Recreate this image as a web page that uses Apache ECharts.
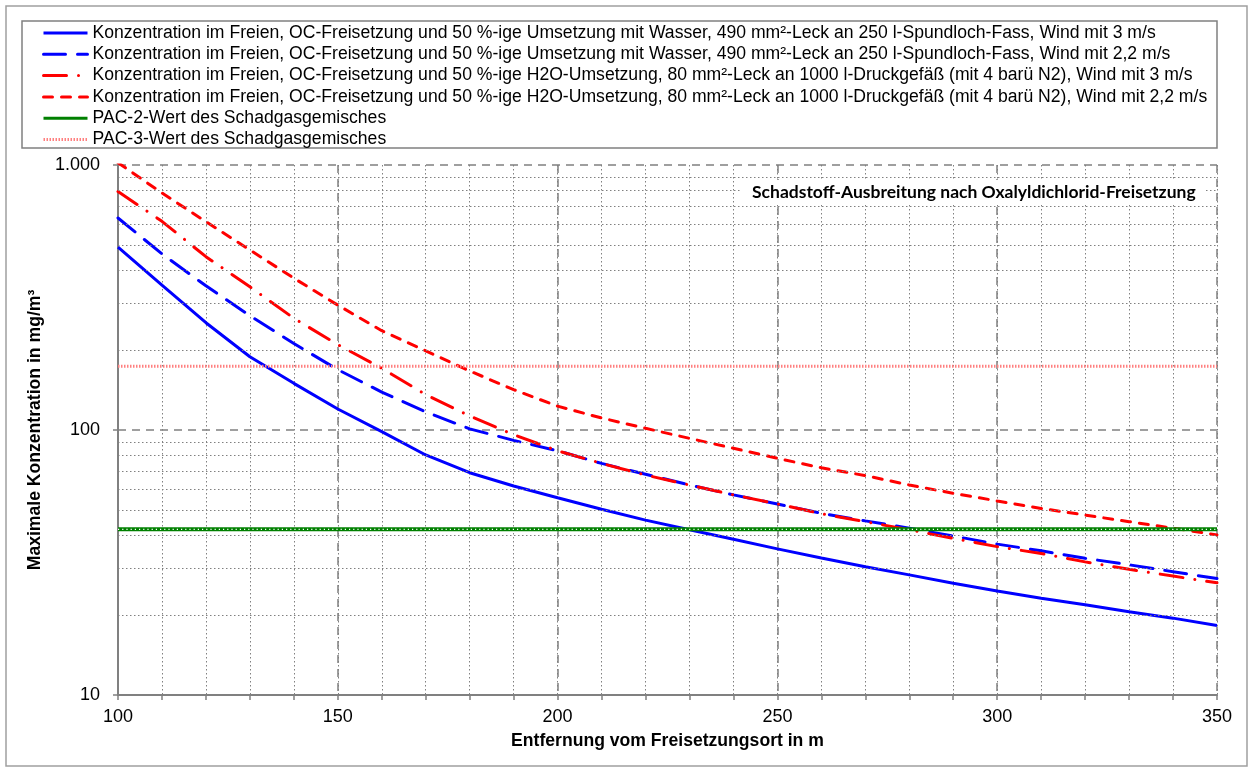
<!DOCTYPE html>
<html style="height: 100%">
<head>
    <meta charset="utf-8">
    <script src="https://cdn.jsdelivr.net/npm/echarts@6/dist/echarts.min.js"></script>
    <title>Schadstoff-Ausbreitung</title>
</head>
<body style="height: 100%; margin: 0; background: #fff">
<div id="container" style="width: 1253px; height: 772px"></div>
<script type="text/javascript">

    // Entfernung in m
    let distances = [100, 110, 120, 130, 140, 150, 160, 170, 180, 190, 200, 210, 220,
        230, 240, 250, 260, 270, 280, 290, 300, 310, 320, 330, 340, 350]

    // 490 mm² Leck, Wind 3 m/s
    let fass3 = [490, 352, 254, 189, 150, 120, 98.6, 80.5, 69, 61.5, 55.5, 50.2, 45.7,
        42.0, 38.7, 35.6, 32.9, 30.5, 28.4, 26.4, 24.7, 23.2, 21.9, 20.6, 19.5, 18.3]
    // 490 mm² Leck, Wind 2,2 m/s
    let fass22 = [631, 462, 350, 270, 212, 169, 139, 117, 101, 91.4, 83.5, 74.8, 68.1,
        62, 56.9, 52.6, 48.5, 45.4, 42.6, 39.8, 37.1, 35, 32.8, 31, 29.2, 27.5]
    // 80 mm² Leck, Wind 3 m/s
    let druck3 = [794, 613, 451, 347, 264, 210, 171, 136, 113, 96, 83.5, 74.8, 67.6,
        62, 56.9, 52.6, 48.3, 45.1, 42, 39, 36.3, 34.2, 31.8, 29.8, 28.1, 26.5]
    // 80 mm² Leck, Wind 2,2 m/s
    let druck22 = [1020, 784, 611, 478, 374, 296, 237, 199, 167, 142, 123, 111, 101.5,
        93, 85.3, 78.2, 72, 67.3, 62, 57.7, 54, 50.6, 47.75, 45.1, 42.6, 40.2]

    let pac2 = 42.2
    let pac3 = 174

    let yMinorTicks = [20, 30, 40, 50, 60, 70, 80, 90, 200, 300, 400, 500, 600, 700, 800, 900]

    let names = [
        'Konzentration im Freien, OC-Freisetzung und 50 %-ige Umsetzung mit Wasser, 490 mm²-Leck an 250 l-Spundloch-Fass, Wind mit 3 m/s',
        'Konzentration im Freien, OC-Freisetzung und 50 %-ige Umsetzung mit Wasser, 490 mm²-Leck an 250 l-Spundloch-Fass, Wind mit 2,2 m/s',
        'Konzentration im Freien, OC-Freisetzung und 50 %-ige H2O-Umsetzung, 80 mm²-Leck an 1000 l-Druckgefäß (mit 4 barü N2), Wind mit 3 m/s',
        'Konzentration im Freien, OC-Freisetzung und 50 %-ige H2O-Umsetzung, 80 mm²-Leck an 1000 l-Druckgefäß (mit 4 barü N2), Wind mit 2,2 m/s',
        'PAC-2-Wert des Schadgasgemisches',
        'PAC-3-Wert des Schadgasgemisches'
    ]

    function pairs(vals) {
        return distances.map((d, i) => [d, vals[i]])
    }
    function flat(v) {
        return [[distances[0], v], [distances[distances.length - 1], v]]
    }

    let font = "'Liberation Sans', Arial, sans-serif"
    let grey = '#808080'

    let chart = echarts.init(document.getElementById('container'))
    chart.setOption({
        animation: false,
        title: {
            text: 'Schadstoff-Ausbreitung nach Oxalyldichlorid-Freisetzung',
            left: 742, top: 180,
            padding: [3, 10, 3, 10],
            backgroundColor: '#fff',
            textStyle: {fontFamily: 'Lato, sans-serif', fontWeight: 'bold', fontSize: 17.5, color: '#000'}
        },
        legend: {
            data: names,
            orient: 'vertical',
            left: 42, top: 24, padding: 0,
            itemWidth: 44, itemHeight: 14, itemGap: 3.3,
            itemStyle: {opacity: 0},
            lineStyle: {width: 3},
            textStyle: {fontFamily: font, fontSize: 17.6, color: '#000', lineHeight: 18}
        },
        graphic: [
            {type: 'rect', shape: {x: 6, y: 6, width: 1241, height: 760}, style: {fill: null, stroke: '#a0a0a0', lineWidth: 1.5}, z: -1},
            {type: 'rect', shape: {x: 22, y: 21, width: 1195, height: 127}, style: {fill: null, stroke: grey, lineWidth: 1.5}, z: -1}
        ],
        grid: {left: 118, right: 36, top: 165, bottom: 77},
        xAxis: [
            {
                type: 'value', min: 100, max: 350, interval: 50,
                name: 'Entfernung vom Freisetzungsort in m',
                nameLocation: 'middle', nameGap: 37,
                nameTextStyle: {fontFamily: font, fontSize: 17.6, fontWeight: 'bold', color: '#000'},
                axisLine: {lineStyle: {color: grey, width: 2}},
                axisTick: {show: false},
                axisLabel: {fontFamily: font, fontSize: 18, color: '#000', margin: 13},
                splitLine: {lineStyle: {color: grey, width: 1.5, type: [8, 6]}}
            },
            {
                type: 'value', min: 100, max: 350, interval: 10, position: 'bottom',
                axisLine: {show: false},
                axisTick: {show: true, length: 5, lineStyle: {color: grey, width: 1.5}},
                axisLabel: {show: false},
                splitLine: {lineStyle: {color: grey, width: 1, type: [1.5, 2.5]}}
            }
        ],
        yAxis: {
            type: 'log', logBase: 10, min: 10, max: 1000,
            name: 'Maximale Konzentration in mg/m³',
            nameLocation: 'middle', nameGap: 70,
            nameTextStyle: {fontFamily: font, fontSize: 17.6, fontWeight: 'bold', color: '#000'},
            axisLine: {show: true, lineStyle: {color: grey, width: 2}},
            axisTick: {show: true, length: 5, lineStyle: {color: grey, width: 1.5}},
            axisLabel: {
                fontFamily: font, fontSize: 18, color: '#000', margin: 18,
                formatter: v => v >= 1000 ? '1.000' : String(v)
            },
            splitLine: {lineStyle: {color: grey, width: 1.5, type: [8, 6]}}
        },
        series: [
            {
                name: names[0], type: 'line', data: pairs(fass3), symbol: 'none', z: 3,
                lineStyle: {color: '#0000ff', width: 3}, itemStyle: {color: '#0000ff'}
            },
            {
                name: names[1], type: 'line', data: pairs(fass22), symbol: 'none', z: 3,
                lineStyle: {color: '#0000ff', width: 3, type: [22, 12], cap: 'round'}, itemStyle: {color: '#0000ff'}
            },
            {
                name: names[2], type: 'line', data: pairs(druck3), symbol: 'none', z: 3,
                lineStyle: {color: '#ff0000', width: 3, type: [23, 12, 0.01, 12], cap: 'round'}, itemStyle: {color: '#ff0000'}
            },
            {
                name: names[3], type: 'line', data: pairs(druck22), symbol: 'none', z: 3,
                lineStyle: {color: '#ff0000', width: 3, type: [9, 9], cap: 'round'}, itemStyle: {color: '#ff0000'}
            },
            {
                name: names[4], type: 'line', data: flat(pac2), symbol: 'none', z: 4,
                lineStyle: {color: '#008000', width: 4}, itemStyle: {color: '#008000'}
            },
            {
                name: 'pac2dots', type: 'line', data: flat(pac2), symbol: 'none', z: 5,
                lineStyle: {color: '#ffffff', width: 1.2, type: [1.2, 3]}
            },
            {
                name: names[5], type: 'line', data: flat(pac3), symbol: 'none', z: 4,
                lineStyle: {color: '#ff8080', width: 3, type: [1.5, 1.5]}, itemStyle: {color: '#ff8080'}
            },
            {
                name: 'minorGrid', type: 'line', data: [], z: 1, silent: true,
                markLine: {
                    silent: true, symbol: ['none', 'none'], label: {show: false},
                    lineStyle: {color: grey, width: 1, type: [1.5, 2.5]},
                    data: yMinorTicks.map(v => ({yAxis: v}))
                }
            }
        ]
    })

</script>
</body>
</html>
